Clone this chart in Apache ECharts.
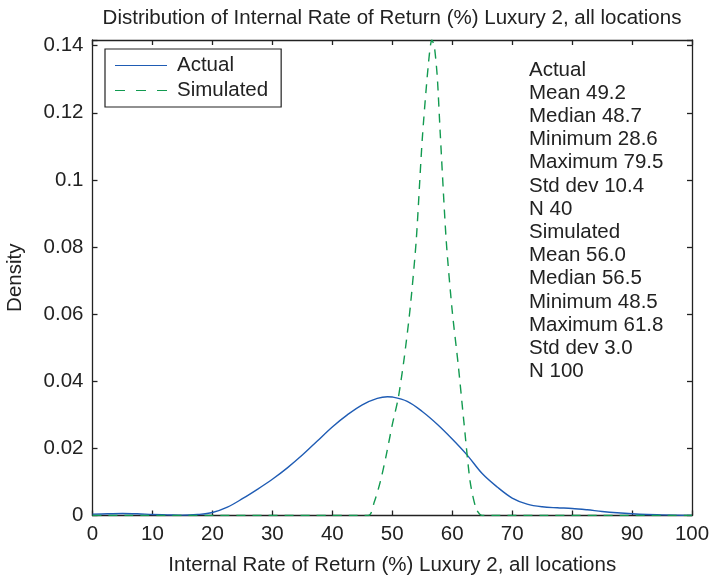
<!DOCTYPE html>
<html><head><meta charset="utf-8">
<script src="https://cdn.jsdelivr.net/npm/echarts@6/dist/echarts.min.js"></script>
<style>html,body{margin:0;padding:0;background:#fff}#c{width:711px;height:577px}</style>
</head><body><div id="c"></div>
<script>
const titleText = 'Distribution of Internal Rate of Return (%) Luxury 2, all locations';
const xAxisName = 'Internal Rate of Return (%) Luxury 2, all locations';
const yAxisName = 'Density';
const seriesNames = ['Actual', 'Simulated'];

const actualX = [0, 2.5, 5, 7.5, 10, 12.5, 15, 17.5, 20, 22.5, 25, 27.5, 30, 32.5, 35, 37.5, 40, 42.5, 45, 47.5, 49.2, 50, 52.5, 55, 57.5, 60, 62.5, 65, 67.5, 70, 72.5, 75, 77.5, 80, 82.5, 85, 87.5, 90, 92.5, 95, 100];
const actualY = [0.0004, 0.0005, 0.0006, 0.0005, 0.0003, 0.0002, 0.0001, 0.0003, 0.0009, 0.0025, 0.0050, 0.0078, 0.0108, 0.0142, 0.0180, 0.0222, 0.0264, 0.0300, 0.0330, 0.0349, 0.0354, 0.0353, 0.0340, 0.0310, 0.0272, 0.0228, 0.0180, 0.0125, 0.0085, 0.0052, 0.0034, 0.0026, 0.0023, 0.0021, 0.0017, 0.0012, 0.0008, 0.0005, 0.0003, 0.0002, 0.0000];

const simX = [0, 46, 47, 48, 49, 50, 51, 52, 53, 54, 55, 56, 56.6, 57, 57.5, 58, 59, 60, 61, 62, 63, 64, 65, 100];
const simY = [0, 0, 0.004, 0.010, 0.018, 0.027, 0.035, 0.047, 0.062, 0.082, 0.112, 0.134, 0.1417, 0.140, 0.131, 0.114, 0.082, 0.061, 0.045, 0.027, 0.010, 0.002, 0, 0];

const statsLines = ['Actual', 'Mean 49.2', 'Median 48.7', 'Minimum 28.6', 'Maximum 79.5', 'Std dev 10.4', 'N 40',
  'Simulated', 'Mean 56.0', 'Median 56.5', 'Minimum 48.5', 'Maximum 61.8', 'Std dev 3.0', 'N 100'];

const xMin = 0, xMax = 100, xStep = 10;
const yMin = 0, yMax = 0.1417, yStep = 0.02;

const FONT = 'Liberation Sans, Arial, Helvetica, sans-serif';
const FS = 20.5;
const INK = '#222222';
const BLUE = '#1f5cb4';
const GREEN = '#129a50';
const axisLineStyle = { color: INK, width: 1.3 };

function yLabel(v) {
  const k = v / yStep;
  if (Math.abs(k - Math.round(k)) > 1e-6) return '';
  return String(parseFloat(v.toFixed(2)));
}

const solidIcon = 'path://M0,0H52V1H0Z';
const dashIcon = 'path://M0,0H10V1H0Z M21,0H31V1H21Z M42,0H52V1H42Z';

function axisCommon(extra) {
  return Object.assign({
    type: 'value',
    axisLine: { show: true, onZero: false, lineStyle: axisLineStyle },
    axisTick: { show: true, inside: true, length: 5, lineStyle: axisLineStyle },
    splitLine: { show: false }
  }, extra);
}

const chart = echarts.init(document.getElementById('c'), null, { renderer: 'canvas' });
chart.setOption({
  backgroundColor: '#ffffff',
  animation: false,
  title: {
    text: titleText, left: 392, top: 8, padding: 0, textAlign: 'center',
    textStyle: { fontFamily: FONT, fontSize: FS, fontWeight: 'normal', color: INK }
  },
  grid: { left: 92.5, right: 19, top: 40, bottom: 61.5, containLabel: false, outerBoundsMode: 'none' },
  legend: {
    data: [
      { name: seriesNames[0], icon: solidIcon, itemStyle: { color: BLUE, borderWidth: 0 } },
      { name: seriesNames[1], icon: dashIcon, itemStyle: { color: GREEN, borderWidth: 0 } }
    ],
    orient: 'vertical', left: 105, top: 49,
    backgroundColor: '#fff',
    borderColor: INK, borderWidth: 1.2, borderRadius: 0,
    padding: [6, 13, 6, 10], itemGap: 4, itemWidth: 52, itemHeight: 1.6,
    textStyle: { fontFamily: FONT, fontSize: FS, color: INK, lineHeight: 20, padding: [0, 0, 0, 5] }
  },
  xAxis: [axisCommon({
    min: xMin, max: xMax, interval: xStep, position: 'bottom',
    name: xAxisName, nameLocation: 'middle', nameGap: 39,
    nameTextStyle: { fontFamily: FONT, fontSize: FS, color: INK },
    axisLabel: { fontFamily: FONT, fontSize: FS, color: INK, margin: 8 }
  }), axisCommon({
    min: xMin, max: xMax, interval: xStep, position: 'top',
    axisLabel: { show: false }
  })],
  yAxis: [axisCommon({
    min: yMin, max: yMax, interval: yStep, position: 'left',
    name: yAxisName, nameLocation: 'middle', nameGap: 67,
    nameTextStyle: { fontFamily: FONT, fontSize: FS, color: INK },
    axisLabel: { fontFamily: FONT, fontSize: FS, color: INK, margin: 9, formatter: yLabel }
  }), axisCommon({
    min: yMin, max: yMax, interval: yStep, position: 'right',
    axisLabel: { show: false }
  })],
  series: [{
    name: seriesNames[0], type: 'line', xAxisIndex: 0, yAxisIndex: 0,
    data: actualX.map((x, i) => [x, actualY[i]]),
    symbol: 'none', showSymbol: false, smooth: 0.35,
    lineStyle: { color: BLUE, width: 1.4 }, itemStyle: { color: BLUE }
  }, {
    name: seriesNames[1], type: 'line', xAxisIndex: 0, yAxisIndex: 0,
    data: simX.map((x, i) => [x, simY[i]]),
    symbol: 'none', showSymbol: false, smooth: 0.25,
    lineStyle: { color: GREEN, width: 1.4, type: [9, 7] }, itemStyle: { color: GREEN }
  }],
  graphic: [{
    type: 'text', left: 529, top: 58.4, silent: true,
    style: { text: statsLines.join('\n'), font: FS + 'px ' + FONT, lineHeight: 23.2, fill: INK }
  }]
});
</script></body></html>
